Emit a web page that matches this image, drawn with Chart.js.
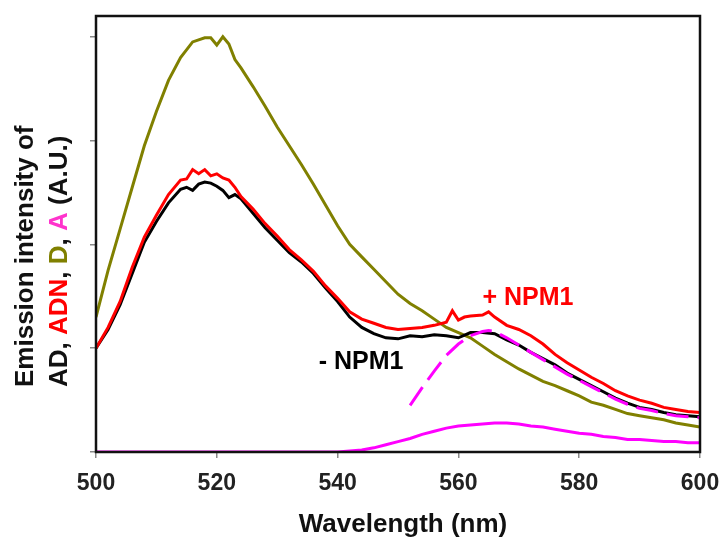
<!DOCTYPE html>
<html>
<head>
<meta charset="utf-8">
<script src="https://cdn.jsdelivr.net/npm/chart.js@4/dist/chart.umd.min.js"></script>
<style>
  html, body { margin:0; padding:0; background:#fff; }
  #wrap { width:720px; height:541px; position:relative; }
</style>
</head>
<body>
<div id="wrap"><canvas id="c" width="720" height="541"></canvas></div>
<script>
/* ── DATA ── */
const xTicks = [500, 520, 540, 560, 580, 600];
const yTicks = [0, 1, 2, 3, 4];

// D (olive)
const dWl  = [500,502,504,506,508,510,512,514,516,518,519,520,521,522,523,524,526,528,530,532,534,536,538,540,542,544,546,548,550,552,554,556,558,560,562,564,566,568,570,572,574,576,578,580,582,584,586,588,590,592,594,596,598,600];
const dVal = [1.30,1.75,2.15,2.55,2.95,3.28,3.58,3.80,3.95,3.99,3.99,3.92,4.00,3.93,3.78,3.70,3.52,3.33,3.13,2.95,2.77,2.58,2.38,2.18,2.00,1.88,1.76,1.64,1.52,1.43,1.36,1.28,1.20,1.15,1.10,1.02,0.94,0.87,0.80,0.74,0.68,0.64,0.59,0.54,0.48,0.45,0.41,0.37,0.35,0.33,0.31,0.28,0.26,0.24];

// ADN (+ NPM1, red)
const adnWl  = [500,502,504,506,508,510,512,514,515,516,517,518,519,520,521,522,523,524,526,528,530,532,534,536,538,540,542,544,546,548,550,552,554,556,558,559,560,561,562,564,565,566,568,570,572,574,576,578,580,582,584,586,588,590,592,594,596,598,600];
const adnVal = [1.00,1.20,1.45,1.78,2.07,2.28,2.48,2.62,2.63,2.72,2.68,2.72,2.66,2.68,2.64,2.62,2.55,2.46,2.34,2.20,2.08,1.95,1.85,1.74,1.60,1.48,1.35,1.28,1.24,1.20,1.18,1.19,1.20,1.22,1.25,1.36,1.27,1.30,1.31,1.32,1.35,1.30,1.22,1.18,1.12,1.04,0.94,0.86,0.79,0.72,0.66,0.59,0.54,0.50,0.47,0.43,0.41,0.39,0.38];

// AD (- NPM1, black)
const adWl  = [500,502,504,506,508,510,512,514,515,516,517,518,519,520,521,522,523,524,526,528,530,532,534,536,538,540,542,544,546,548,550,552,554,556,558,560,562,564,566,568,570,572,574,576,578,580,582,584,586,588,590,592,594,596,598,600];
const adVal = [1.00,1.18,1.42,1.72,2.02,2.22,2.40,2.53,2.55,2.52,2.58,2.60,2.59,2.56,2.52,2.45,2.48,2.44,2.30,2.16,2.04,1.92,1.83,1.72,1.58,1.45,1.30,1.20,1.14,1.10,1.09,1.12,1.11,1.13,1.12,1.10,1.15,1.15,1.14,1.08,1.03,0.96,0.90,0.84,0.76,0.70,0.64,0.58,0.52,0.47,0.43,0.41,0.38,0.36,0.35,0.34];

// A (magenta, solid)
const aWl  = [500,510,520,530,540,542,544,546,548,550,552,554,556,558,560,562,564,566,568,570,572,574,576,578,580,582,584,586,588,590,592,594,596,598,600];
const aVal = [0,0,0,0,0,0.01,0.02,0.04,0.07,0.10,0.13,0.17,0.20,0.23,0.25,0.26,0.27,0.28,0.28,0.27,0.25,0.24,0.22,0.20,0.18,0.17,0.15,0.14,0.12,0.12,0.11,0.10,0.10,0.09,0.09];

// A (magenta, dashed)
const aDashWl  = [552,554,556,558,560,562,564,565,566,568,570,572,574,576,578,580,582,584,586,588,590,592,594,596,598,600];
const aDashVal = [0.45,0.62,0.78,0.93,1.04,1.12,1.16,1.17,1.16,1.10,1.03,0.96,0.89,0.82,0.75,0.69,0.63,0.57,0.51,0.46,0.42,0.40,0.37,0.35,0.34,0.33];

const pts = (xs, ys) => xs.map((x, i) => ({ x, y: ys[i] }));

/* ── COLOURS ── */
const C = { olive:"#808000", red:"#ff0000", black:"#000000", magenta:"#ff00ff", pink:"#ff33cc" };
const FONT = "'Liberation Sans', Arial, sans-serif";

function line(data, color, order, dash) {
  return { data, borderColor: color, borderWidth: 3, pointRadius: 0, tension: 0, fill: false, order, borderDash: dash || [] };
}

/* ── TEXT + FRAME ── */
const decor = {
  id: "decor",
  afterDatasetsDraw(chart) {
    const { ctx, chartArea: a } = chart;
    ctx.save();
    ctx.strokeStyle = "#111"; ctx.lineWidth = 2.5;
    ctx.strokeRect(a.left, a.top, a.right - a.left, a.bottom - a.top);
    ctx.restore();
  },
  afterDraw(chart) {
    const { ctx } = chart;
    ctx.save();
    ctx.textBaseline = "middle";

    // annotations
    ctx.font = `bold 25px ${FONT}`;
    ctx.textAlign = "center";
    ctx.fillStyle = C.red;   ctx.fillText("+ NPM1", 528, 298);
    ctx.fillStyle = C.black; ctx.fillText("- NPM1", 361, 362);

    // x title
    ctx.font = `bold 26px ${FONT}`;
    ctx.fillStyle = "#111";
    ctx.fillText("Wavelength (nm)", 403, 525);

    // y title, two rotated lines
    ctx.save();
    ctx.translate(26, 387);
    ctx.rotate(-Math.PI / 2);
    ctx.textAlign = "left";
    ctx.fillStyle = "#111";
    ctx.fillText("Emission intensity of", 0, 0);
    ctx.restore();

    ctx.save();
    ctx.translate(60, 387);
    ctx.rotate(-Math.PI / 2);
    ctx.textAlign = "left";
    const parts = [["AD, ", "#111"], ["ADN", C.red], [", ", "#111"], ["D", C.olive], [", ", "#111"], ["A", C.pink], [" (A.U.)", "#111"]];
    let x = 0;
    parts.forEach(([t, col]) => { ctx.fillStyle = col; ctx.fillText(t, x, 0); x += ctx.measureText(t).width; });
    ctx.restore();

    ctx.restore();
  }
};

new Chart(document.getElementById("c").getContext("2d"), {
  type: "line",
  data: {
    datasets: [
      line(pts(aDashWl, aDashVal), C.magenta, 0, [22, 9]),
      line(pts(adnWl, adnVal), C.red, 1),
      line(pts(adWl, adVal), C.black, 2),
      line(pts(dWl, dVal), C.olive, 3),
      line(pts(aWl, aVal), C.magenta, 4),
    ]
  },
  options: {
    responsive: false, animation: false,
    layout: { padding: { left: 0, top: 16, right: 0, bottom: 0 } },
    plugins: { legend: { display: false }, tooltip: { enabled: false } },
    scales: {
      x: {
        type: "linear", min: 500, max: 600,
        afterBuildTicks: s => { s.ticks = xTicks.map(v => ({ value: v })); },
        afterFit: s => { s.height = 89; s.paddingRight = 20; },
        border: { display: false },
        grid: { drawOnChartArea: false, drawTicks: true, tickLength: 6, color: "#888", lineWidth: 1.5 },
        ticks: { padding: 12, color: "#222", font: { family: FONT, size: 23, weight: "bold" } }
      },
      y: {
        type: "linear", min: 0, max: 4.2,
        afterBuildTicks: s => { s.ticks = yTicks.map(v => ({ value: v })); },
        afterFit: s => { s.width = 96; },
        border: { display: false },
        grid: { drawOnChartArea: false, drawTicks: true, tickLength: 6, color: "#888", lineWidth: 1.5 },
        ticks: { display: false }
      }
    }
  },
  plugins: [decor]
});
</script>
</body>
</html>
